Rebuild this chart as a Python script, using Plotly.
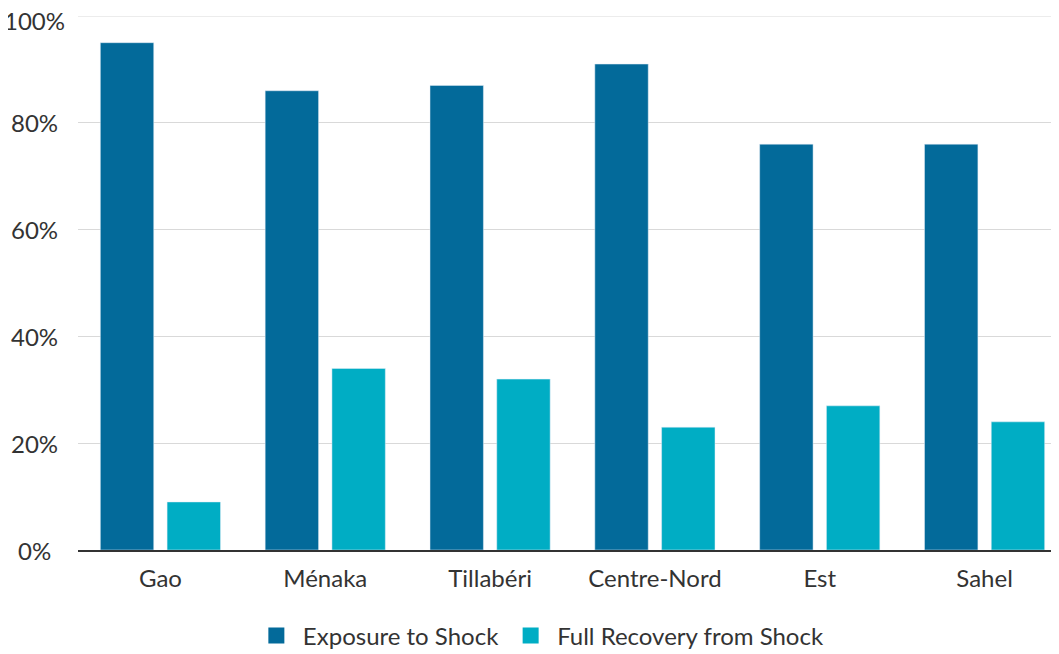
import plotly.graph_objects as go

regions = ["Gao", "Ménaka", "Tillabéri", "Centre-Nord", "Est", "Sahel"]
exposure = [95, 86, 87, 91, 76, 76]
recovery = [9, 34, 32, 23, 27, 24]
series_names = ["Exposure to Shock", "Full Recovery from Shock"]
colors = ["#036A9A", "#00ADC4"]
y_ticks = [0, 20, 40, 60, 80, 100]
y_tick_labels = ["0%", "20%", "40%", "60%", "80%", "100%"]

font_family = "Lato, Source Sans Pro, Noto Sans, sans-serif"

fig = go.Figure()
fig.add_trace(go.Bar(x=regions, y=exposure, name=series_names[0], marker_color=colors[0],
                     showlegend=False))
fig.add_trace(go.Bar(x=regions, y=recovery, name=series_names[1], marker_color=colors[1],
                     showlegend=False))
# legend entries with square swatches
for name, col in zip(series_names, colors):
    fig.add_trace(go.Scatter(x=[None], y=[None], mode="markers", name=name,
                             marker=dict(symbol="square", size=17, color=col),
                             showlegend=True))

# centred y tick labels (top one nudged so it stays inside the page)
for v, t in zip(y_ticks, y_tick_labels):
    fig.add_annotation(x=-0.0435, xref="paper", y=v, yref="y", text=t, showarrow=False,
                       xanchor="center", yanchor="middle",
                       yshift=-4 if v == y_ticks[-1] else 0,
                       font=dict(size=24, color="#333333", family=font_family))

# top gridline (plotly skips the grid line lying exactly on the plot edge)
fig.add_shape(type="line", xref="paper", x0=0, x1=1, yref="y", y0=y_ticks[-1], y1=y_ticks[-1],
              line=dict(color="#d9d9d9", width=1), layer="below")

fig.update_layout(
    width=1059, height=654,
    margin=dict(l=70, r=0, t=8, b=112),
    barmode="group", bargap=0.19, bargroupgap=0.2,
    plot_bgcolor="white", paper_bgcolor="white",
    font=dict(family=font_family, size=24, color="#333333"),
    showlegend=True,
    legend=dict(orientation="h", x=0.467, xanchor="center", y=-0.161, yanchor="middle",
                font=dict(size=24, color="#333333"), itemwidth=43, tracegroupgap=0,
                traceorder="normal"),
    xaxis=dict(showgrid=False, showline=True, linecolor="#333333", linewidth=2,
               ticks="", ticklabelstandoff=6),
    yaxis=dict(range=[0, 100], tickvals=y_ticks, showticklabels=False,
               showgrid=True, gridcolor="#d9d9d9", gridwidth=1, zeroline=False,
               ticks="", showline=False, automargin=False),
)

fig.write_html("out.html", config={"displayModeBar": False})
